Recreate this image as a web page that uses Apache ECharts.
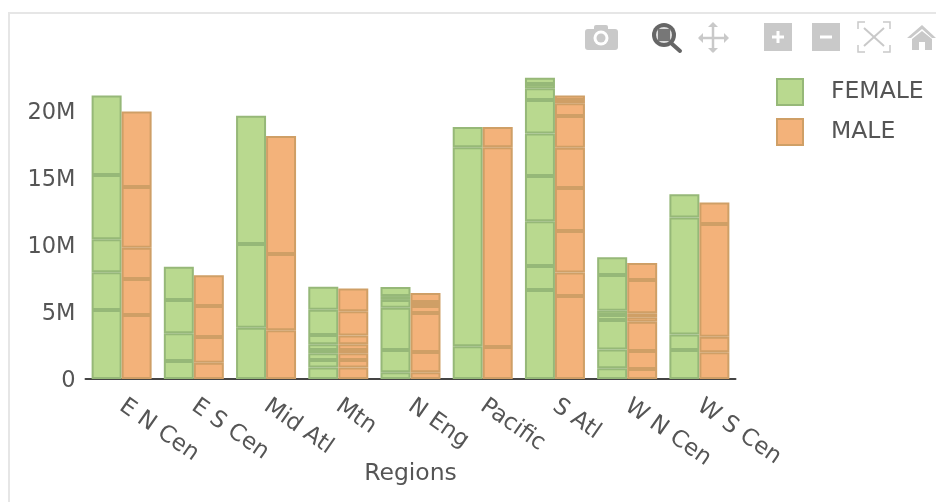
<!DOCTYPE html>
<html><head><meta charset="utf-8">
<style>html,body{margin:0;padding:0;background:#fff}#c{width:936px;height:502px}</style>
<script src="https://cdn.jsdelivr.net/npm/echarts@6/dist/echarts.min.js"></script>
</head><body><div id="c"></div>
<script>
const categories = ['E N Cen','E S Cen','Mid Atl','Mtn','N Eng','Pacific','S Atl','W N Cen','W S Cen'];
const legendNames = ['FEMALE','MALE'];
const yTicks = [0,5,10,15,20];
const axisTitle = 'Regions';
// millions of people, one list per region, bottom segment first
const femaleENCen = [5.15,2.81,2.46,4.80,5.93];
const femaleESCen = [1.34,2.07,2.49,2.47];
const femaleMidAtl = [3.83,6.24,9.57];
const femaleMtn = [0.85,0.57,0.50,0.25,0.42,0.70,1.87,1.72];
const femaleNEng = [0.50,1.66,3.16,0.58,0.29,0.68];
const femalePacific = [2.44,14.85,1.52];
const femaleSAtl = [6.64,1.79,3.34,3.38,3.18,2.49,0.87,0.32,0.47];
const femaleWNCen = [0.80,1.41,2.19,0.38,0.32,2.66,1.32];
const femaleWSCen = [2.16,1.17,8.73,1.73];
const maleENCen = [4.78,2.68,2.34,4.53,5.64];
const maleESCen = [1.22,1.91,2.32,2.29];
const maleMidAtl = [3.63,5.70,8.80];
const maleMtn = [0.85,0.57,0.50,0.25,0.42,0.65,1.82,1.70];
const maleNEng = [0.50,1.51,2.92,0.52,0.30,0.66];
const malePacific = [2.39,14.90,1.52];
const maleSAtl = [6.19,1.75,3.10,3.21,3.01,2.37,0.94,0.25,0.34];
const maleWNCen = [0.75,1.34,2.19,0.32,0.30,2.49,1.26];
const maleWSCen = [1.99,1.17,8.41,1.60];

const femaleRows = [femaleENCen,femaleESCen,femaleMidAtl,femaleMtn,femaleNEng,femalePacific,femaleSAtl,femaleWNCen,femaleWSCen];
const maleRows = [maleENCen,maleESCen,maleMidAtl,maleMtn,maleNEng,malePacific,maleSAtl,maleWNCen,maleWSCen];

const FONT = '"DejaVu Sans", Verdana, sans-serif';
const TXT = '#555';
const styles = {
  FEMALE:{color:'#b9d98f',borderColor:'#96b878'},
  MALE:{color:'#f3b27a',borderColor:'#cf9f66'}
};
function build(name, rows){
  const depth = Math.max(...rows.map(r=>r.length));
  const out = [];
  for(let k=0;k<depth;k++){
    out.push({
      type:'bar', name, stack:name, barWidth:30, barGap:0,
      itemStyle:{color:styles[name].color,borderColor:styles[name].borderColor,borderWidth:2},
      data:rows.map(r=>k<r.length?r[k]:null),
      emphasis:{disabled:true}
    });
  }
  return out;
}
const G = '#c9c9c9';
const graphic = [
  {type:'rect',shape:{x:8,y:12,width:2,height:490},style:{fill:'#e6e6e6'},silent:true},
  {type:'rect',shape:{x:8,y:12,width:928,height:2},style:{fill:'#e6e6e6'},silent:true},
  // camera
  {type:'rect',shape:{x:585,y:29,width:33,height:21,r:3},style:{fill:G}},
  {type:'rect',shape:{x:594,y:25,width:14,height:6,r:2},style:{fill:G}},
  {type:'circle',shape:{cx:601,cy:38,r:7.5},style:{fill:'#fff'}},
  {type:'circle',shape:{cx:601,cy:38,r:4.5},style:{fill:G}},
  // zoom
  {type:'line',shape:{x1:671,y1:43,x2:680,y2:51},style:{stroke:'#666',lineWidth:4,lineCap:'round'}},
  {type:'circle',shape:{cx:664,cy:35,r:12},style:{fill:'#666'}},
  {type:'circle',shape:{cx:664,cy:35,r:8},style:{fill:'#ddd'}},
  {type:'rect',shape:{x:658,y:29,width:12,height:12},style:{fill:'#777'}},
  // pan
  {type:'line',shape:{x1:699,y1:38,x2:727,y2:38},style:{stroke:G,lineWidth:2.5}},
  {type:'line',shape:{x1:713,y1:24,x2:713,y2:52},style:{stroke:G,lineWidth:2.5}},
  {type:'polygon',shape:{points:[[698,38],[703,33],[703,43]]},style:{fill:G}},
  {type:'polygon',shape:{points:[[729,38],[724,33],[724,43]]},style:{fill:G}},
  {type:'polygon',shape:{points:[[713,22],[708,27],[718,27]]},style:{fill:G}},
  {type:'polygon',shape:{points:[[713,53],[708,48],[718,48]]},style:{fill:G}},
  // plus
  {type:'rect',shape:{x:764,y:23,width:28,height:28},style:{fill:G}},
  {type:'rect',shape:{x:772,y:35.5,width:12,height:3},style:{fill:'#fff'}},
  {type:'rect',shape:{x:776.5,y:31,width:3,height:12},style:{fill:'#fff'}},
  // minus
  {type:'rect',shape:{x:812,y:23,width:28,height:28},style:{fill:G}},
  {type:'rect',shape:{x:820,y:35.5,width:12,height:3},style:{fill:'#fff'}},
  // autoscale
  {type:'polyline',shape:{points:[[858,29],[858,22],[865,22]]},style:{stroke:G,lineWidth:1.5,fill:null}},
  {type:'polyline',shape:{points:[[883,22],[890,22],[890,29]]},style:{stroke:G,lineWidth:1.5,fill:null}},
  {type:'polyline',shape:{points:[[858,45],[858,52],[865,52]]},style:{stroke:G,lineWidth:1.5,fill:null}},
  {type:'polyline',shape:{points:[[883,52],[890,52],[890,45]]},style:{stroke:G,lineWidth:1.5,fill:null}},
  {type:'line',shape:{x1:864,y1:28,x2:884,y2:46},style:{stroke:G,lineWidth:2}},
  {type:'line',shape:{x1:884,y1:28,x2:864,y2:46},style:{stroke:G,lineWidth:2}},
  // home
  {type:'polygon',shape:{points:[[907,38],[922,25],[936,38],[932,38],[922,29],[911,38]]},style:{fill:G}},
  {type:'polygon',shape:{points:[[912,39],[922,31],[932,39],[932,50],[925,50],[925,42],[919,42],[919,50],[912,50]]},style:{fill:G}}
].map(g=>Object.assign({silent:true},g));

const chart = echarts.init(document.getElementById('c'),null,{renderer:'canvas'});
chart.setOption({
  animation:false,
  textStyle:{fontFamily:FONT},
  grid:{left:85.5,right:200.5,top:57.4,bottom:123,containLabel:false},
  legend:{
    data:legendNames,left:776,top:78,orient:'vertical',icon:'rect',itemWidth:26,itemHeight:26,itemGap:12,padding:0,
    formatter:n=>'{a|'+n+'}',
    textStyle:{fontFamily:FONT,fontSize:23.5,color:TXT,padding:[0,0,0,23],
      rich:{a:{fontFamily:FONT,fontSize:23.5,color:TXT,lineHeight:26,height:26}}},
    itemStyle:{borderWidth:2},selectedMode:false
  },
  xAxis:{
    type:'category',data:categories,name:axisTitle,nameLocation:'middle',nameGap:83,nameMoveOverlap:false,
    nameTextStyle:{fontFamily:FONT,fontSize:23.5,color:TXT},
    axisLine:{lineStyle:{color:'#444',width:2}},axisTick:{show:false},
    axisLabel:{rotate:-35,interval:0,fontFamily:FONT,fontSize:23,color:TXT,margin:25}
  },
  yAxis:{
    type:'value',min:0,max:24,
    axisLine:{show:false},axisTick:{show:false},splitLine:{show:false},
    axisLabel:{customValues:yTicks,fontFamily:FONT,fontSize:22.5,color:TXT,margin:10,
      formatter:v=>'{a|'+(v===0?'0':v+'M')+'}',
      rich:{a:{fontFamily:FONT,fontSize:22.5,color:TXT,padding:[4,0,0,0]}}}
  },
  series:[...build('FEMALE',femaleRows),...build('MALE',maleRows)],
  graphic
});
</script></body></html>
